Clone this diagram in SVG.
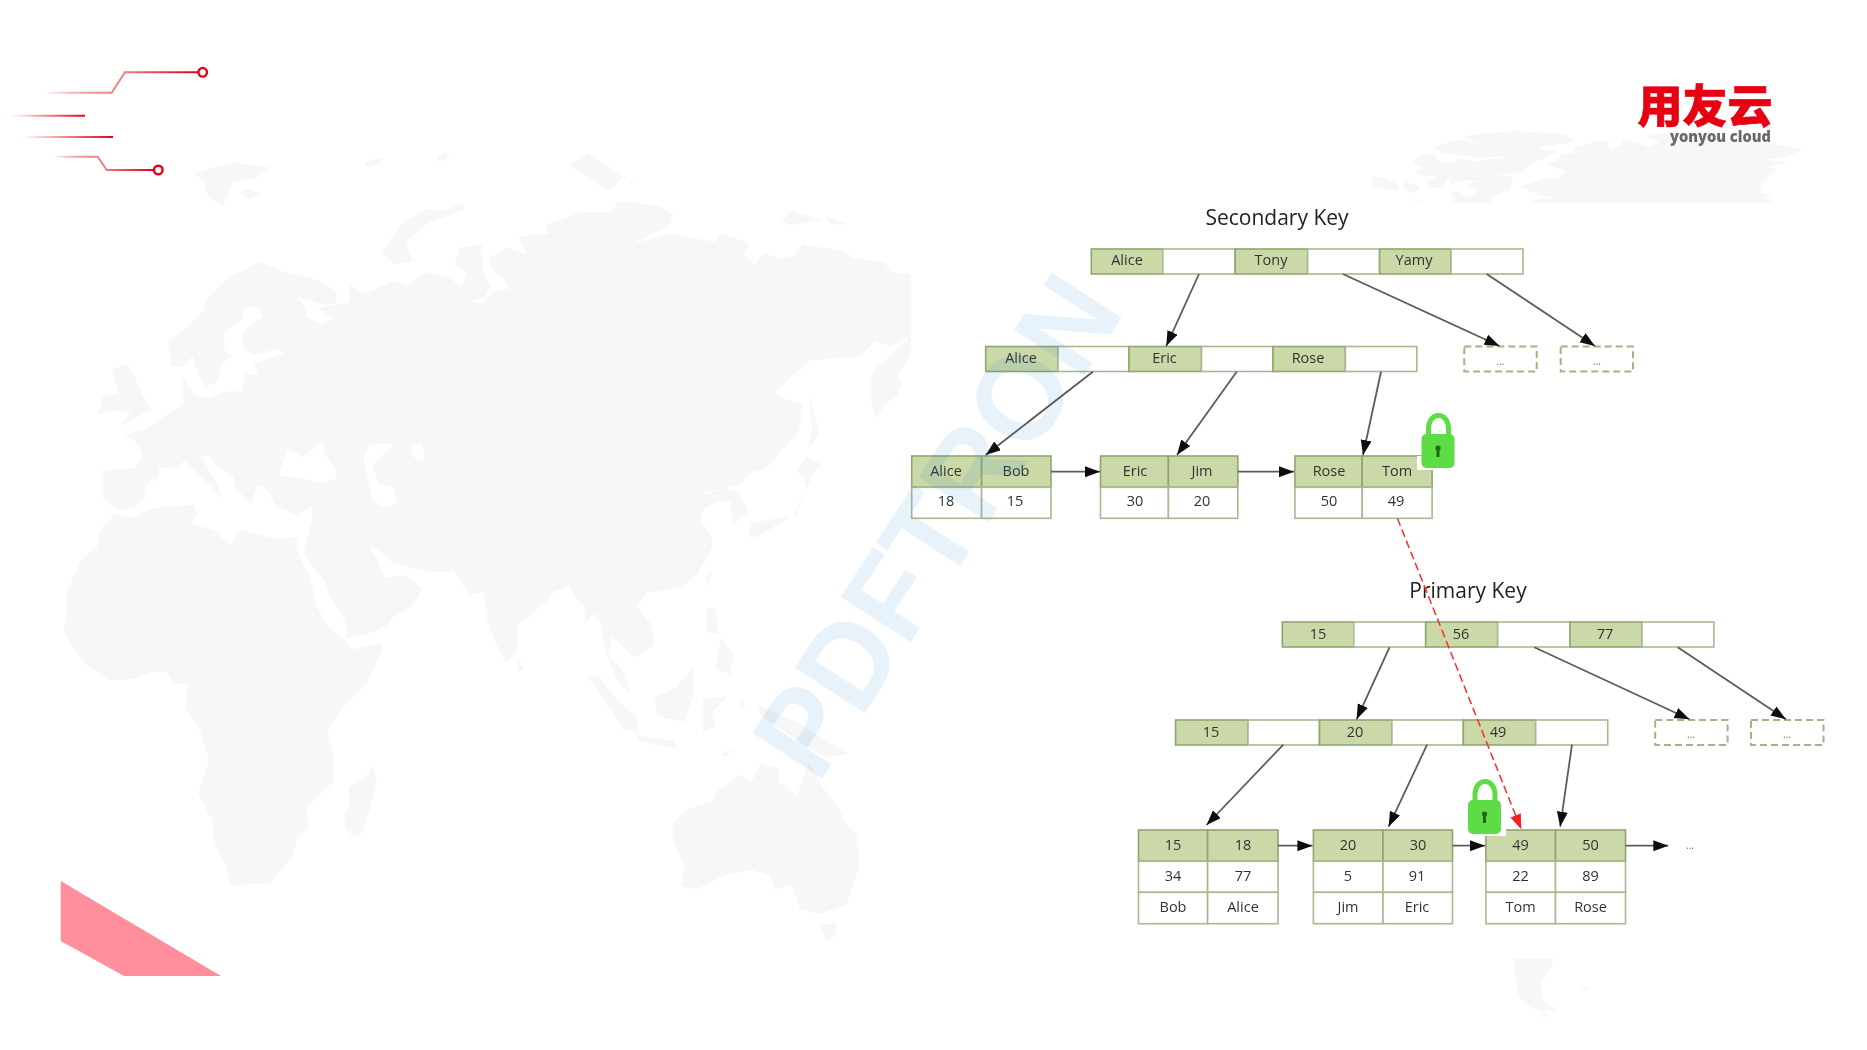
<svg xmlns="http://www.w3.org/2000/svg" xmlns:xlink="http://www.w3.org/1999/xlink" width="1867" height="1050" viewBox="0 0 1867 1050">
<style>
text{font-family:"Open Sans","Noto Sans","Liberation Sans",sans-serif;}
.t{font-size:14.5px;fill:#333;text-anchor:middle;}
.h{font-size:21px;fill:#222;text-anchor:middle;}
.d{font-size:10px;fill:#6d7a5a;text-anchor:middle;}
.g{fill:#cbd9a8;stroke:#8fa56e;stroke-width:1.6;}
.w{fill:#fff;stroke:#a9ba92;stroke-width:1.6;}
.x{fill:#fff;stroke:#a3b388;stroke-width:2;stroke-dasharray:7 4;}
.c{stroke:#5c5c5c;stroke-width:1.8;fill:none;marker-end:url(#a);}
.r{stroke:#ff2a2a;stroke-width:1.5;fill:none;stroke-dasharray:8 4;marker-end:url(#ar);}
.map{fill:#f7f7f7;}
.deco{fill:none;stroke-width:2;}
.ring{fill:#fff;stroke:#e60012;stroke-width:2.4;}
</style>
<defs>
<filter id="soft" x="-5%" y="-5%" width="110%" height="110%"><feGaussianBlur stdDeviation="0.55"/></filter>
<marker id="a" markerUnits="userSpaceOnUse" markerWidth="16" markerHeight="12" refX="15" refY="5.5" orient="auto"><path d="M0 0L15 5.5L0 11Z" fill="#111"/></marker>
<marker id="ar" markerUnits="userSpaceOnUse" markerWidth="16" markerHeight="12" refX="15" refY="5.5" orient="auto"><path d="M0 0L15 5.5L0 11Z" fill="#ff1a1a"/></marker>
<linearGradient id="d1" gradientUnits="userSpaceOnUse" x1="45" y1="0" x2="198" y2="0"><stop offset="0" stop-color="#e60012" stop-opacity="0"/><stop offset=".5" stop-color="#f08088"/><stop offset="1" stop-color="#e60012"/></linearGradient>
<linearGradient id="d2" gradientUnits="userSpaceOnUse" x1="11" y1="0" x2="85" y2="0"><stop offset="0" stop-color="#e60012" stop-opacity="0"/><stop offset="1" stop-color="#e60012"/></linearGradient>
<linearGradient id="d3" gradientUnits="userSpaceOnUse" x1="23" y1="0" x2="113" y2="0"><stop offset="0" stop-color="#e60012" stop-opacity="0"/><stop offset="1" stop-color="#e60012"/></linearGradient>
<linearGradient id="d4" gradientUnits="userSpaceOnUse" x1="53" y1="0" x2="153" y2="0"><stop offset="0" stop-color="#e60012" stop-opacity="0"/><stop offset=".5" stop-color="#f08088"/><stop offset="1" stop-color="#e60012"/></linearGradient>
<g id="padlock">
<path d="M7 20V14C7 -4 27 -4 27 14V20" fill="none" stroke="#5ddc45" stroke-width="5"/>
<rect x="0" y="19" width="33" height="34" rx="5" fill="#5ddc45"/>
<circle cx="16.500" cy="33" r="2.600" fill="#1c6a18"/><rect x="15" y="33" width="3" height="9" fill="#1c6a18"/>
</g>
</defs>
<rect width="1867" height="1050" fill="#fff"/>

<g id="world-map" class="map" filter="url(#soft)">
<g transform="translate(0 140) scale(.606 .551)">
<path d="M170 650L170 600 225 595 235 570 222 545 205 535 245 522 280 495 303 480 302 430 320 462 345 470 370 458 400 455 405 425 425 425 420 405 468 388 460 378 420 390 402 380 400 350 433 320 425 302 405 305 400 325 370 350 370 380 383 392 365 408 360 438 338 448 328 425 318 392 300 412 282 410 278 365 310 340 335 310 340 290 375 250 430 222 470 240 515 250 555 275 555 295 535 300 490 285 505 305 505 320 530 335 550 325 525 305 550 300 575 295 578 262 600 280 650 255 670 265 705 240 740 250 762 265 770 240 750 225 760 195 795 190 797 240 810 265 800 285 778 293 795 298 815 275 840 270 830 250 815 240 805 215 840 195 875 210 880 235 855 175 905 170 900 155 960 130 1010 130 1020 110 1090 120 1110 135 1105 155 1040 190 1100 170 1130 175 1180 185 1190 170 1235 187 1228 210 1245 225 1262 205 1285 215 1310 210 1325 190 1385 200 1410 215 1460 222 1470 240 1503 245 1503 355 1470 375 1445 365 1420 392 1385 395 1335 400 1280 458 1295 470 1325 480 1318 530 1260 600 1245 600 1220 625 1145 645 1175 640 1195 632 1220 640 1235 675 1210 695 1205 655 1185 655 1160 670 1155 690 1175 720 1175 740 1150 790 1125 810 1085 820 1070 820 1050 845 1075 880 1080 915 1045 940 1010 900 1005 935 1030 965 1040 1005 1020 985 1000 930 990 870 980 860 965 875 965 850 945 825 940 808 915 820 900 840 855 880 852 930 835 948 815 905 805 875 798 820 775 825 748 782 715 785 675 775 650 770 630 750 610 733 635 795 668 790 698 815 680 845 650 865 640 880 610 895 572 905 570 870 545 830 535 800 500 750 515 690 515 665 490 680 455 665 445 640 425 625 415 660 405 650 388 630 385 610 358 590 345 572 332 575 345 600 360 625 365 650 350 630 320 600 305 582 285 597 262 595 262 612 240 625 240 645 225 665 195 672Z"/>
<path d="M190 678L220 685 250 668 320 662 325 680 315 695 355 710 380 735 395 708 460 725 490 720 490 745 512 795 522 845 540 880 570 910 580 925 630 912 632 925 605 985 565 1030 540 1075 550 1115 550 1165 505 1210 510 1250 490 1265 485 1295 445 1350 380 1352 370 1310 355 1280 350 1235 327 1185 345 1125 330 1070 305 1030 310 990 285 985 275 965 250 965 220 978 180 980 145 955 120 920 105 890 112 850 108 825 135 760 160 740 165 710Z"/>
<path d="M615 1135L622 1165 600 1255 585 1265 570 1250 568 1225 578 1205 575 1175 605 1155Z"/>
<path d="M185 415L210 408 222 430 240 475 250 490 198 518 215 495 190 490 162 497 170 465 195 460Z"/>
<path d="M320 60L385 40 445 50 420 70 385 75 368 120 345 105 335 75Z"/>
<path d="M398 95L410 88 430 98 410 108Z"/>
<path d="M600 40L632 32 625 45 605 50Z"/>
<path d="M720 30L735 22 742 32 725 38Z"/>
<path d="M940 45L970 25 990 40 1050 82 1030 65 1005 92 965 65Z"/>
<path d="M630 205L665 150 705 125 730 128 765 115 765 125 705 152 670 185 680 220 650 225Z"/>
<path d="M1290 145L1305 128 1355 145 1305 155Z"/>
<path d="M1365 140L1400 153 1370 153Z"/>
<path d="M1440 420L1490 370 1503 355 1503 390 1480 430 1490 440 1480 465 1460 480 1445 505 1435 460Z"/>
<path d="M1335 465L1352 530 1335 560 1340 520Z"/>
<path d="M1330 575L1358 590 1345 600 1310 680 1250 720 1235 720 1240 695 1315 680 1330 630 1325 610 1315 600Z"/>
<path d="M852 935L865 960 855 965Z"/>
<path d="M1165 790L1175 785 1168 815Z"/>
<path d="M1165 850L1180 850 1185 895 1210 935 1205 970 1180 960 1190 900 1165 890Z"/>
<path d="M968 970L990 975 1020 1020 1050 1045 1055 1075 1030 1070Z"/>
<path d="M1050 1080L1110 1090 1120 1105 1055 1092Z"/>
<path d="M1080 1010L1115 995 1145 955 1145 1005 1130 1055 1095 1050 1085 1045Z"/>
<path d="M1160 1015L1200 1010 1175 1040 1180 1065 1160 1075Z"/>
<path d="M1250 1025L1320 1060 1400 1115 1360 1120 1330 1100 1290 1070 1255 1045Z"/>
<path d="M1190 1115L1215 1103 1195 1120Z"/>
<path d="M1225 1015L1230 1030 1220 1030Z"/>
<path d="M1110 1240L1135 1215 1175 1200 1185 1180 1200 1170 1220 1152 1240 1165 1255 1130 1285 1140 1285 1165 1315 1190 1335 1130 1355 1170 1385 1215 1395 1240 1415 1260 1418 1320 1395 1390 1350 1405 1320 1395 1305 1350 1280 1360 1270 1335 1240 1325 1195 1335 1150 1360 1125 1355 1130 1320 1110 1270Z"/>
<path d="M1352 1425L1380 1420 1380 1440 1365 1455Z"/>
<path fill="#fff" d="M460 610L475 560 500 575 535 545 535 570 555 600 555 615 530 622 490 612Z"/>
<path fill="#fff" d="M600 580L610 552 650 552 640 565 615 590 625 625 650 630 655 660 635 668 615 655Z"/>
<path fill="#fff" d="M680 555L695 550 702 575 690 583 678 570Z"/>
</g>
<g transform="translate(1340 120) scale(.336 .333)">
<path d="M540 200L600 178 655 175 670 150 640 145 612 130 640 125 665 100 695 100 700 80 780 60 800 70 800 88 840 75 835 55 920 80 950 65 905 48 1000 35 1280 70 1380 88 1330 110 1265 120 1340 125 1270 140 1300 145 1275 170 1255 190 1250 218 1285 225 1265 235 1300 248 560 248 590 237 635 235 590 225Z"/>
<path d="M275 85L355 58 415 72 370 50 430 40 525 33 625 40 670 42 700 65 640 75 590 85 650 95 575 130 545 155 470 165 515 172 505 208 450 235 450 248 320 248 345 238 325 220 350 215 385 235 410 212 375 195 415 180 345 185 335 200 325 175 300 205 265 205 255 180 290 170 235 165 225 150 250 145 215 130 240 105 280 102 295 125 340 130 360 115 400 125 500 110 440 110 470 92 440 115 350 105 310 100Z"/>
<path d="M90 170L120 172 170 190 177 215 100 200Z"/>
<path d="M188 182L238 200 232 215 205 218 190 200Z"/>
<path d="M215 248L225 240 245 248Z"/>
</g>
<g transform="translate(1480 940) scale(.333)">
<path d="M100 55L222 55 205 100 185 120 185 150 190 175 205 195 230 210 180 212 150 200 125 180 110 150 105 100Z"/>
<path d="M300 145L330 142 315 155Z"/>
<path d="M170 222L205 220 195 232Z"/>
</g>
</g>

<g id="decoration">
<path class="deco" stroke="url(#d1)" d="M45 92.700H111.700L125 72.300H198"/>
<circle class="ring" cx="202.700" cy="72.300" r="4.300"/>
<path class="deco" stroke="url(#d2)" d="M11 115.700H85"/>
<path class="deco" stroke="url(#d3)" d="M23 137H113"/>
<path class="deco" stroke="url(#d4)" d="M53 156.700H97.700L106.700 170H153"/>
<circle class="ring" cx="158.300" cy="170" r="4.300"/>
<path d="M60.700 881L221 976H124L60.700 941Z" fill="#ff8f9c"/>
</g>

<g id="logo">
<text x="1705" y="123" text-anchor="middle" stroke="#e60012" stroke-width=".6" style="font-family:'Noto Sans CJK SC',sans-serif;font-size:45px;font-weight:900;fill:#e60012">用友云</text>
<text x="1670" y="142" textLength="101" lengthAdjust="spacingAndGlyphs" style="font-family:'Open Sans',sans-serif;font-size:16.500px;font-weight:800;fill:#6a6a6a">yonyou cloud</text>
</g>

<g filter="url(#soft)">
<g id="secondary-key"><text class="h" x="1277" y="225">Secondary Key</text></g>
<g id="s-root">
<rect class="g" x="1091.300" y="249" width="71.500" height="25"/><rect class="w" x="1162.800" y="249" width="72.400" height="25"/>
<rect class="g" x="1235.200" y="249" width="72.500" height="25"/><rect class="w" x="1307.700" y="249" width="71.900" height="25"/>
<rect class="g" x="1379.600" y="249" width="71.400" height="25"/><rect class="w" x="1451" y="249" width="72" height="25"/>
<text class="t" x="1127" y="265">Alice</text><text class="t" x="1271" y="265">Tony</text><text class="t" x="1414" y="265">Yamy</text>
</g>
<g id="s-mid">
<rect class="g" x="985.700" y="346.500" width="72.300" height="25"/><rect class="w" x="1058" y="346.500" width="71" height="25"/>
<rect class="g" x="1129" y="346.500" width="72.500" height="25"/><rect class="w" x="1201.500" y="346.500" width="71.500" height="25"/>
<rect class="g" x="1273" y="346.500" width="72.400" height="25"/><rect class="w" x="1345.400" y="346.500" width="71.400" height="25"/>
<text class="t" x="1021" y="363">Alice</text><text class="t" x="1164.500" y="363">Eric</text><text class="t" x="1308" y="363">Rose</text>
</g>
<g id="s-more-1"><rect class="x" x="1464.300" y="346.500" width="72.400" height="25"/><text class="d" x="1500.500" y="365">...</text></g>
<g id="s-more-2"><rect class="x" x="1560.700" y="346.500" width="72.300" height="25"/><text class="d" x="1597" y="365">...</text></g>
<g id="s-leaf-1">
<rect class="g" x="911.700" y="456" width="69.900" height="31.300"/><rect class="g" x="981.600" y="456" width="69.400" height="31.300"/>
<rect class="w" x="911.700" y="487.300" width="69.900" height="31"/><rect class="w" x="981.600" y="487.300" width="69.400" height="31"/>
<text class="t" x="946" y="475.500">Alice</text><text class="t" x="1016" y="475.500">Bob</text>
<text class="t" x="946" y="506">18</text><text class="t" x="1015" y="506">15</text>
</g>
<g id="s-leaf-2">
<rect class="g" x="1100.500" y="456" width="67.900" height="31.300"/><rect class="g" x="1168.400" y="456" width="69.400" height="31.300"/>
<rect class="w" x="1100.500" y="487.300" width="67.900" height="31"/><rect class="w" x="1168.400" y="487.300" width="69.400" height="31"/>
<text class="t" x="1135" y="475.500">Eric</text><text class="t" x="1202" y="475.500">Jim</text>
<text class="t" x="1135" y="506">30</text><text class="t" x="1202" y="506">20</text>
</g>
<g id="s-leaf-3">
<rect class="g" x="1294.900" y="456" width="67.300" height="31.300"/><rect class="g" x="1362.200" y="456" width="69.900" height="31.300"/>
<rect class="w" x="1294.900" y="487.300" width="67.300" height="31"/><rect class="w" x="1362.200" y="487.300" width="69.900" height="31"/>
<text class="t" x="1329" y="475.500">Rose</text><text class="t" x="1397" y="475.500">Tom</text>
<text class="t" x="1329" y="506">50</text><text class="t" x="1396" y="506">49</text>
</g>

<g id="primary-key"><text class="h" x="1468" y="598">Primary Key</text></g>
<g id="p-root">
<rect class="g" x="1282.300" y="622" width="71.500" height="25"/><rect class="w" x="1353.800" y="622" width="71.900" height="25"/>
<rect class="g" x="1425.700" y="622" width="72" height="25"/><rect class="w" x="1497.700" y="622" width="72.300" height="25"/>
<rect class="g" x="1570" y="622" width="72" height="25"/><rect class="w" x="1642" y="622" width="71.900" height="25"/>
<text class="t" x="1318" y="639">15</text><text class="t" x="1461" y="639">56</text><text class="t" x="1605" y="639">77</text>
</g>
<g id="p-mid">
<rect class="g" x="1175.600" y="720" width="72.400" height="25"/><rect class="w" x="1248" y="720" width="71.500" height="25"/>
<rect class="g" x="1319.500" y="720" width="72.400" height="25"/><rect class="w" x="1391.900" y="720" width="71.400" height="25"/>
<rect class="g" x="1463.300" y="720" width="72.400" height="25"/><rect class="w" x="1535.700" y="720" width="72" height="25"/>
<text class="t" x="1211" y="737">15</text><text class="t" x="1355" y="737">20</text><text class="t" x="1498" y="737">49</text>
</g>
<g id="p-more-1"><rect class="x" x="1655.200" y="720" width="72.400" height="25"/><text class="d" x="1691" y="738">...</text></g>
<g id="p-more-2"><rect class="x" x="1751" y="720" width="72.500" height="25"/><text class="d" x="1787" y="738">...</text></g>
<g id="p-leaf-1">
<rect class="g" x="1138.500" y="830" width="69.100" height="31.300"/><rect class="g" x="1207.600" y="830" width="70.400" height="31.300"/>
<rect class="w" x="1138.500" y="861.300" width="69.100" height="31"/><rect class="w" x="1207.600" y="861.300" width="70.400" height="31"/>
<rect class="w" x="1138.500" y="892.300" width="69.100" height="31.400"/><rect class="w" x="1207.600" y="892.300" width="70.400" height="31.400"/>
<text class="t" x="1173" y="850">15</text><text class="t" x="1243" y="850">18</text>
<text class="t" x="1173" y="881">34</text><text class="t" x="1243" y="881">77</text>
<text class="t" x="1173" y="912">Bob</text><text class="t" x="1243" y="912">Alice</text>
</g>
<g id="p-leaf-2">
<rect class="g" x="1313.400" y="830" width="69.600" height="31.300"/><rect class="g" x="1383" y="830" width="69.500" height="31.300"/>
<rect class="w" x="1313.400" y="861.300" width="69.600" height="31"/><rect class="w" x="1383" y="861.300" width="69.500" height="31"/>
<rect class="w" x="1313.400" y="892.300" width="69.600" height="31.400"/><rect class="w" x="1383" y="892.300" width="69.500" height="31.400"/>
<text class="t" x="1348" y="850">20</text><text class="t" x="1418" y="850">30</text>
<text class="t" x="1348" y="881">5</text><text class="t" x="1417" y="881">91</text>
<text class="t" x="1348" y="912">Jim</text><text class="t" x="1417" y="912">Eric</text>
</g>
<g id="p-leaf-3">
<rect class="g" x="1485.900" y="830" width="69.600" height="31.300"/><rect class="g" x="1555.500" y="830" width="70" height="31.300"/>
<rect class="w" x="1485.900" y="861.300" width="69.600" height="31"/><rect class="w" x="1555.500" y="861.300" width="70" height="31"/>
<rect class="w" x="1485.900" y="892.300" width="69.600" height="31.400"/><rect class="w" x="1555.500" y="892.300" width="70" height="31.400"/>
<text class="t" x="1520.500" y="850">49</text><text class="t" x="1590.500" y="850">50</text>
<text class="t" x="1520.500" y="881">22</text><text class="t" x="1590.500" y="881">89</text>
<text class="t" x="1520.500" y="912">Tom</text><text class="t" x="1590.500" y="912">Rose</text>
</g>
<g id="p-more-3"><text class="d" x="1690" y="849">...</text></g>

<g id="lock-1">
<rect x="1417" y="456" width="39" height="14" fill="#fff"/>
<use xlink:href="#padlock" href="#padlock" x="1421.500" y="415"/>
</g>
<g id="lock-2">
<rect x="1466" y="822" width="40" height="14" fill="#fff"/>
<use xlink:href="#padlock" href="#padlock" x="1468" y="781"/>
</g>

<g id="connectors">
<line class="c" x1="1199" y1="274" x2="1166.300" y2="346"/>
<line class="c" x1="1342.900" y1="274" x2="1499.500" y2="346"/>
<line class="c" x1="1486.700" y1="274" x2="1594.900" y2="346"/>
<line class="c" x1="1092.900" y1="371.700" x2="985.700" y2="455"/>
<line class="c" x1="1236.700" y1="371.700" x2="1177" y2="455"/>
<line class="c" x1="1381" y1="371.700" x2="1363" y2="455"/>
<line class="c" x1="1051" y1="471.700" x2="1100" y2="471.700"/>
<line class="c" x1="1237.800" y1="471.700" x2="1293.900" y2="471.700"/>
<line class="c" x1="1389.500" y1="647.300" x2="1356.600" y2="719.300"/>
<line class="c" x1="1534.300" y1="647.300" x2="1689.500" y2="719.300"/>
<line class="c" x1="1677.700" y1="647.300" x2="1785.900" y2="719.300"/>
<line class="c" x1="1283.300" y1="744.700" x2="1206.600" y2="825"/>
<line class="c" x1="1427.100" y1="744.700" x2="1388.600" y2="826.700"/>
<line class="c" x1="1572" y1="744.700" x2="1560.200" y2="826.700"/>
<line class="c" x1="1278" y1="845.700" x2="1312.400" y2="845.700"/>
<line class="c" x1="1452.500" y1="845.700" x2="1485" y2="845.700"/>
<line class="c" x1="1625.500" y1="845.700" x2="1668.300" y2="845.700"/>
<line class="r" x1="1397.400" y1="518.300" x2="1521.200" y2="829.300"/>
</g>
</g>

<g id="watermark">
<text transform="translate(818 785) rotate(-57)" textLength="565" lengthAdjust="spacingAndGlyphs" style="font-family:'Liberation Sans',sans-serif;font-size:121px;font-weight:700;fill:#1e7fd8;fill-opacity:.1">PDFTRON</text>
</g>
</svg>
